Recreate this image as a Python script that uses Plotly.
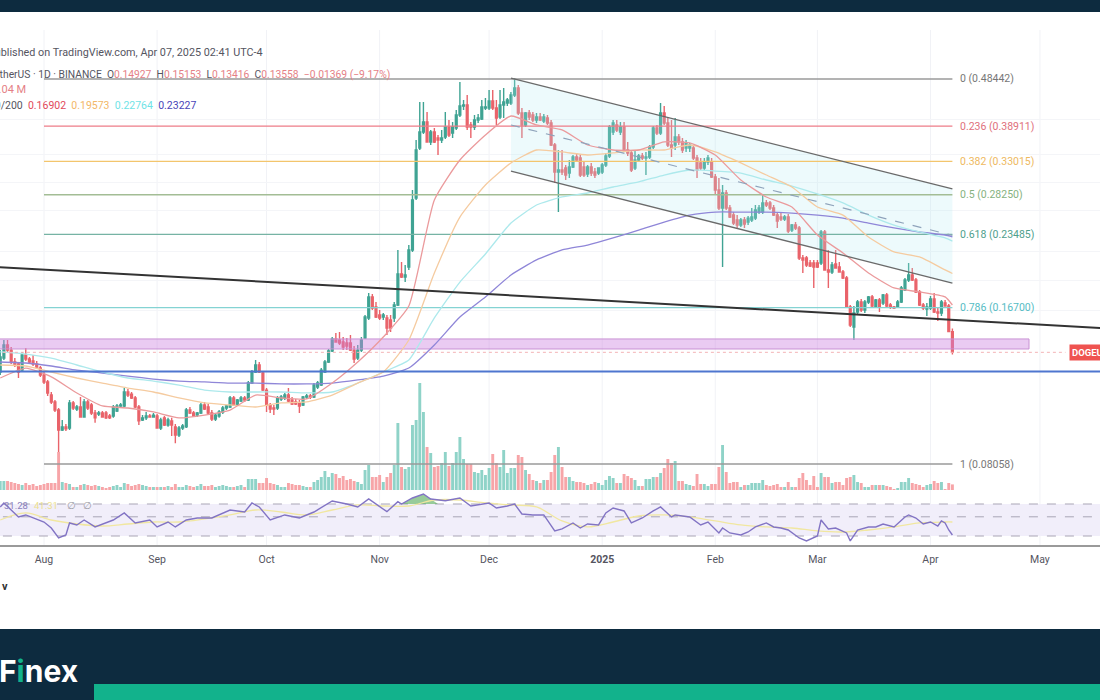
import math
import pandas as pd
import plotly.graph_objects as go

# daily DOGE candles, Jul 20 2024 - Apr 7 2025
opens = [
    .1237, .1320, .1403, .1370, .1296, .1284, .1248, .1339, .1314, .1302, .1284, .1260,
    .1220, .1181, .1111, .1076, .1036, .0944, .0958, .0953, .1071, .1041, .1051, .1003, .1076, .1061, .1022, .1017, .1022, .1022, .1008, .1008, .1031, .1056, .1056, .1127, .1116, .1096, .1051, .0989, .0999, .1008, .1003,
    .1008, .0953, .0999, .0966, .0985, .0958, .0922, .0953, .0958, .1036, .1022, .1012, .1022, .1061, .1051, .1022, .0994, .1008, .1027, .1046, .1051, .1096, .1061, .1081, .1096, .1086, .1175, .1237, .1278, .1231,
    .1137, .1061, .1046, .1046, .1091, .1096, .1111, .1086, .1076, .1071, .1061, .1101, .1106, .1101, .1153, .1164, .1237, .1296, .1364, .1443, .1436, .1423, .1416, .1416, .1370, .1320, .1370, .1449, .1591, .1755, .1674,
    .1613, .1598, .1591, .1576, .1591, .1690, .1953, .1926, .2018, .2184, .2783, .3513, .3785, .3965, .3613, .3785, .3681, .3646, .3698, .3874, .3767, .3856, .4096, .4272, .4292, .3910, .3874, .4002, .4020, .4232,
    .4232, .4373, .4232, .4058, .4292, .4333, .4333, .4496, .4646, .4135, .3910, .4135, .4096, .4002, .4058, .3983, .4039, .3947, .3562, .3141, .3170, .3200, .3126, .3215, .3369, .3353, .3215, .3111, .3215, .3141, .3126,
    .3141, .3245, .3384, .3785, .3910, .3785, .3874, .3480, .3432, .3200, .3321, .3384, .3353, .3369, .3529, .3856, .3767, .4135, .3947, .3562, .3562, .3698, .3613, .3513, .3513, .3513, .3353, .3276, .3200, .3291, .3291,
    .3068, .2888, .2656, .2848, .2656, .2570, .2511, .2453, .2511, .2488, .2511, .2534, .2606, .2606, .2719, .2719, .2656, .2570, .2546, .2522, .2546, .2397, .2453, .2420, .2104, .2104, .2056, .2056,
    .2056, .2056, .2375, .1990, .1971, .2047, .2018, .1971, .1917, .1674, .1526, .1636, .1714, .1651, .1714, .1755, .1674, .1730, .1706, .1771, .1690, .1674, .1674, .1714, .1813, .1899, .1944, .1899, .1796, .1690, .1659,
    .1667, .1738, .1636, .1628, .1706, .1682, .14927,
]
highs = [
    .1370, .1436, .1436, .1390, .1320, .1296, .1358, .1383, .1327, .1339, .1302, .1272,
    .1237, .1192, .1127, .1086, .1046, .0989, .0971, .1086, .1081, .1061, .1101, .1091, .1086, .1071, .1036, .1031, .1031, .1031, .1017, .1061, .1066, .1071, .1148, .1143, .1127, .1106, .1061, .1012, .1027, .1017, .1022,
    .1017, .0999, .1008, .0999, .0999, .0971, .0962, .0971, .1046, .1051, .1031, .1027, .1071, .1076, .1066, .1036, .1022, .1036, .1056, .1061, .1106, .1106, .1091, .1106, .1106, .1186, .1248, .1308, .1296, .1242,
    .1148, .1071, .1061, .1106, .1111, .1122, .1148, .1101, .1091, .1086, .1106, .1116, .1116, .1175, .1186, .1260, .1308, .1377, .1456, .1483, .1490, .1456, .1449, .1470, .1396, .1403, .1456, .1613, .1787, .1779, .1714,
    .1651, .1628, .1613, .1613, .1714, .2184, .2066, .2037, .2235, .2888, .3646, .4353, .4353, .4154, .3820, .3856, .3732, .3820, .4154, .4002, .3965, .4193, .4778, .4393, .4496, .3965, .4096, .4115, .4393, .4434,
    .4602, .4602, .4393, .4602, .4646, .4434, .4559, .4866, .4711, .4232, .4154, .4193, .4154, .4135, .4135, .4115, .4096, .4002, .3596, .3480, .3480, .3245, .3321, .3400, .3432, .3400, .3291, .3245, .3276, .3200, .3200,
    .3276, .3432, .3910, .4002, .4002, .3965, .3965, .3613, .3480, .3480, .3416, .3432, .3448, .3562, .3892, .3910, .4333, .4272, .4039, .4002, .4039, .3749, .3681, .3646, .3596, .3562, .3400, .3353, .3353, .3400, .3353,
    .3111, .3054, .2956, .2888, .2693, .2606, .2570, .2534, .2546, .2558, .2656, .2693, .2693, .2821, .2757, .2744, .2693, .2606, .2594, .2570, .2582, .2465, .2488, .2442, .2134, .2124, .2085, .2085,
    .2085, .2397, .2397, .2184, .2066, .2184, .2066, .1990, .1935, .1690, .1682, .1730, .1738, .1730, .1763, .1771, .1738, .1747, .1779, .1787, .1706, .1682, .1730, .1847, .1917, .2056, .2008, .1917, .1813, .1706, .1706,
    .1763, .1787, .1667, .1730, .1730, .1698, .15153,
]
lows = [
    .1220, .1308, .1351, .1284, .1266, .1203, .1237, .1302, .1284, .1272, .1254, .1209,
    .1170, .1106, .1066, .1027, .0852, .0940, .0940, .0944, .1036, .1031, .0999, .0999, .1036, .1012, .0976, .1008, .0999, .0994, .0994, .0999, .1027, .1046, .1051, .1101, .1091, .1046, .0966, .0985, .0989, .0999, .0999,
    .0953, .0944, .0962, .0958, .0918, .0888, .0914, .0944, .0953, .1017, .1003, .1003, .1017, .1036, .1012, .0985, .0985, .0999, .1017, .1036, .1046, .1056, .1056, .1076, .1076, .1081, .1170, .1231, .1231, .1132,
    .1027, .1022, .1012, .1036, .1081, .1086, .1076, .1061, .1061, .1022, .1056, .1091, .1091, .1096, .1143, .1159, .1231, .1290, .1358, .1423, .1403, .1370, .1370, .1364, .1290, .1308, .1358, .1443, .1576, .1651, .1591,
    .1576, .1576, .1470, .1490, .1561, .1682, .1917, .1881, .1990, .2164, .2757, .3480, .3749, .3613, .3562, .3596, .3400, .3596, .3663, .3698, .3681, .3820, .4058, .4193, .3820, .3681, .3820, .3947, .4002, .4193,
    .4193, .4193, .3910, .4020, .4039, .4272, .4292, .4454, .4096, .3681, .3874, .4002, .3965, .3947, .3983, .3947, .3910, .3546, .2984, .2606, .3097, .3026, .3054, .3200, .3291, .3068, .3068, .3068, .3082, .3054, .3097,
    .3111, .3215, .3353, .3732, .3785, .3732, .3448, .3384, .3141, .3170, .3291, .3321, .3097, .3337, .3496, .3732, .3732, .3910, .3529, .3369, .3480, .3562, .3432, .3448, .3448, .3321, .3054, .3170, .3170, .3245, .3054,
    .2821, .2631, .2018, .2631, .2534, .2453, .2420, .2430, .2420, .2453, .2488, .2511, .2582, .2582, .2668, .2631, .2558, .2420, .2499, .2499, .2364, .2375, .2397, .2085, .1962, .2018, .2018, .1830,
    .2008, .2037, .1990, .1830, .1953, .2008, .1971, .1908, .1667, .1526, .1436, .1620, .1636, .1628, .1698, .1667, .1667, .1636, .1690, .1667, .1659, .1659, .1667, .1706, .1804, .1881, .1890, .1787, .1682, .1651, .1605,
    .1651, .1628, .1569, .1605, .1682, .1490, .13416,
]
closes = [
    .1327, .1403, .1370, .1296, .1278, .1237, .1339, .1314, .1296, .1284, .1266, .1220,
    .1181, .1122, .1076, .1036, .0944, .0958, .0949, .1071, .1046, .1051, .1003, .1076, .1046, .1022, .0999, .1022, .1003, .0999, .0999, .1051, .1056, .1061, .1127, .1111, .1096, .1051, .0985, .0999, .1008, .1003, .1012,
    .0953, .0989, .0966, .0989, .0966, .0922, .0953, .0962, .1036, .1022, .1008, .1022, .1061, .1041, .1022, .0994, .1012, .1027, .1046, .1056, .1096, .1061, .1086, .1096, .1086, .1175, .1237, .1278, .1237, .1137,
    .1061, .1041, .1041, .1096, .1101, .1111, .1081, .1066, .1066, .1056, .1101, .1106, .1101, .1164, .1175, .1248, .1296, .1364, .1443, .1423, .1416, .1390, .1396, .1370, .1314, .1370, .1436, .1598, .1755, .1667, .1598,
    .1591, .1613, .1518, .1518, .1690, .1953, .1926, .1944, .2184, .2757, .3480, .3785, .3965, .3613, .3785, .3613, .3646, .3681, .3874, .3732, .3874, .4096, .4272, .4292, .3874, .3874, .4002, .4039, .4252, .4252,
    .4373, .4232, .4039, .4292, .4353, .4393, .4496, .4646, .4135, .3910, .4135, .4058, .4002, .4058, .4002, .4058, .3947, .3562, .3141, .3170, .3141, .3097, .3215, .3369, .3321, .3097, .3097, .3215, .3126, .3097, .3200,
    .3245, .3384, .3874, .3947, .3820, .3874, .3480, .3432, .3170, .3321, .3384, .3353, .3369, .3529, .3856, .3767, .4135, .3947, .3562, .3513, .3698, .3613, .3480, .3596, .3562, .3353, .3170, .3200, .3291, .3353, .3068,
    .2888, .2656, .2848, .2656, .2546, .2476, .2453, .2511, .2465, .2534, .2546, .2631, .2656, .2719, .2693, .2656, .2570, .2499, .2522, .2546, .2386, .2453, .2420, .2104, .2085, .2037, .2027, .2018,
    .2018, .2375, .1990, .1971, .2037, .2008, .1971, .1917, .1674, .1540, .1628, .1714, .1651, .1714, .1755, .1682, .1730, .1674, .1771, .1682, .1674, .1667, .1714, .1830, .1899, .1944, .1899, .1796, .1690, .1667, .1674,
    .1738, .1636, .1628, .1714, .1682, .14927, .13558,
]
# volume in millions
volumes = [
    180, 180, 180, 160, 140, 120, 100, 140, 100, 120, 80, 100,
    120, 140, 140, 140, 760, 160, 140, 120, 60, 60, 100, 120, 100, 80, 100, 80, 60, 40, 60, 80, 100, 60, 140, 120, 80, 100, 120, 100, 80, 60, 60,
    60, 60, 60, 80, 60, 120, 60, 60, 100, 80, 60, 80, 120, 80, 80, 100, 60, 80, 100, 80, 60, 60, 80, 100, 60, 220, 220, 220, 140, 140,
    240, 140, 120, 100, 60, 60, 140, 120, 100, 100, 80, 60, 60, 160, 200, 260, 380, 260, 340, 320, 240, 280, 200, 220, 180, 160, 120, 400, 500, 260, 260,
    300, 160, 260, 340, 500, 1340, 460, 420, 460, 1300, 1400, 2140, 1560, 860, 740, 460, 480, 540, 760, 480, 540, 760, 1060, 620, 520, 520, 360, 340, 400, 300,
    440, 720, 540, 460, 800, 340, 440, 440, 700, 660, 400, 320, 200, 180, 140, 200, 200, 360, 700, 860, 460, 260, 260, 180, 160, 160, 140, 100, 120, 160, 140,
    100, 200, 280, 240, 140, 140, 320, 280, 240, 200, 80, 80, 220, 220, 260, 260, 340, 440, 620, 540, 580, 180, 180, 120, 100, 80, 320, 120, 120, 80, 120,
    120, 460, 900, 360, 140, 160, 160, 60, 100, 100, 140, 140, 140, 200, 100, 80, 100, 120, 60, 60, 160, 60, 60, 240, 340, 200, 100, 280,
    60, 340, 260, 260, 140, 160, 160, 100, 240, 260, 300, 160, 140, 60, 60, 100, 100, 100, 100, 80, 60, 20, 40, 160, 160, 240, 140, 120, 100, 60, 100,
    120, 180, 140, 160, 20, 140, 112.04,
]

ma_dates = ["2024-07-20", "2024-07-27", "2024-08-03", "2024-08-10", "2024-08-17", "2024-08-24", "2024-08-31", "2024-09-07", "2024-09-14", "2024-09-21",
            "2024-09-28", "2024-10-05", "2024-10-12", "2024-10-19", "2024-10-26", "2024-11-02", "2024-11-09", "2024-11-16", "2024-11-23", "2024-11-30",
            "2024-12-07", "2024-12-14", "2024-12-21", "2024-12-28", "2025-01-04", "2025-01-11", "2025-01-18", "2025-01-25", "2025-02-01", "2025-02-08",
            "2025-02-15", "2025-02-22", "2025-03-01", "2025-03-08", "2025-03-15", "2025-03-22", "2025-03-29", "2025-04-05", "2025-04-07"]
ma20 = [.1203, .1260, .1209, .1122, .1056, .1046, .1027, .0999, .1012, .1036, .1111, .1096, .1091, .1175, .1296, .1456, .1682, .2757, .3321, .3732,
        .4077, .3910, .3820, .3562, .3480, .3480, .3613, .3596, .3400, .3026, .2796, .2668, .2342, .2154, .1962, .1830, .1796, .1755, .16902]
ma50 = [.1278, .1272, .1237, .1203, .1175, .1148, .1127, .1096, .1071, .1061, .1051, .1071, .1076, .1111, .1175, .1237, .1436, .1962, .2546, .2956,
        .3276, .3480, .3448, .3400, .3432, .3480, .3480, .3562, .3448, .3276, .3097, .2929, .2668, .2570, .2320, .2164, .2114, .1990, .19573]
ma100 = [.1358, .1345, .1320, .1278, .1237, .1203, .1186, .1164, .1137, .1127, .1127, .1127, .1122, .1127, .1175, .1237, .1308, .1591, .1881, .2144,
         .2476, .2693, .2796, .2848, .2929, .2998, .3097, .3170, .3155, .3126, .3026, .2942, .2835, .2719, .2570, .2453, .2375, .2310, .22764]
ma200 = [.1296, .1290, .1272, .1248, .1231, .1214, .1197, .1186, .1181, .1175, .1175, .1170, .1170, .1175, .1192, .1214, .1260, .1403, .1598, .1755,
         .1944, .2085, .2184, .2235, .2310, .2397, .2488, .2570, .2606, .2606, .2606, .2594, .2570, .2534, .2476, .2420, .2375, .2342, .23227]
rsi_ma = [50, 58.8, 50, 45, 42.5, 45, 47.5, 47.5, 51.3, 56.3, 62.5, 60, 56.3, 62.5, 68.8, 67.5, 67.5, 75, 75, 71.3,
          68.8, 66.3, 48.8, 41.3, 47.5, 55, 56.3, 53.8, 48.8, 43.8, 41.3, 40, 36.3, 35, 37.5, 41.3, 46.3, 47.5, 47.5]

rsi_dates = ["2024-07-20", "2024-07-21", "2024-07-23", "2024-07-25", "2024-07-27", "2024-07-29", "2024-08-01", "2024-08-03", "2024-08-04", "2024-08-05",
             "2024-08-07", "2024-08-08", "2024-08-10", "2024-08-12", "2024-08-15", "2024-08-20", "2024-08-23", "2024-08-26", "2024-08-30", "2024-09-01",
             "2024-09-04", "2024-09-06", "2024-09-09", "2024-09-12", "2024-09-16", "2024-09-21", "2024-09-25", "2024-09-27", "2024-09-29", "2024-10-02",
             "2024-10-06", "2024-10-10", "2024-10-14", "2024-10-19", "2024-10-23", "2024-10-26", "2024-10-29", "2024-10-31", "2024-11-03", "2024-11-06",
             "2024-11-07", "2024-11-10", "2024-11-13", "2024-11-15", "2024-11-19", "2024-11-23", "2024-11-26", "2024-12-01", "2024-12-03", "2024-12-06",
             "2024-12-08", "2024-12-10", "2024-12-13", "2024-12-16", "2024-12-19", "2024-12-21", "2024-12-24", "2024-12-26", "2024-12-28", "2024-12-31",
             "2025-01-02", "2025-01-04", "2025-01-07", "2025-01-09", "2025-01-12", "2025-01-15", "2025-01-17", "2025-01-20", "2025-01-21", "2025-01-25",
             "2025-01-28", "2025-01-30", "2025-02-02", "2025-02-03", "2025-02-05", "2025-02-08", "2025-02-10", "2025-02-12", "2025-02-15", "2025-02-17",
             "2025-02-19", "2025-02-21", "2025-02-24", "2025-02-26", "2025-03-01", "2025-03-02", "2025-03-04", "2025-03-06", "2025-03-09", "2025-03-10",
             "2025-03-12", "2025-03-15", "2025-03-17", "2025-03-19", "2025-03-22", "2025-03-25", "2025-03-26", "2025-03-28", "2025-03-30", "2025-04-01",
             "2025-04-03", "2025-04-04", "2025-04-05", "2025-04-06", "2025-04-07"]
rsi = [66.3, 71.3, 62.5, 53.8, 56.3, 52.5, 47.5, 40, 33.8, 27.5,
       31.3, 46.3, 43.8, 50, 41.3, 50, 58.8, 46.3, 50, 41.3,
       47.5, 41.3, 50, 52.5, 52.5, 62.5, 60, 71.3, 66.3, 50,
       56.3, 52.5, 60, 73.8, 70, 66.3, 76.3, 70, 60.4, 72.9,
       70, 77.5, 82.5, 76.3, 74.1, 77.5, 67.5, 71.3, 65, 67.5,
       70, 57.5, 56.3, 56.3, 36.3, 38.8, 46.3, 40, 45, 43.8,
       58.8, 65, 61.3, 46.3, 52.5, 61.3, 66.3, 53.8, 56.3, 53.8,
       43.8, 47.5, 33.8, 40, 33.8, 31.3, 35, 41.3, 46.3, 41.3,
       40, 37.5, 27.5, 23.8, 30, 50, 38.8, 40, 33.8, 23.8,
       37.5, 41.3, 41.3, 45, 41.3, 53.8, 56.3, 52.5, 45, 47.5,
       42.5, 48.8, 46.3, 37.5, 31.28]
rsi_levels = [70, 54, 30]
# overbought bump that gets the green fill
ob_dates = ["2024-11-07", "2024-11-10", "2024-11-13", "2024-11-15", "2024-11-17"]
ob_vals = [70, 77.5, 82.5, 76.3, 70]

fib_ratio = ["0", "0.236", "0.382", "0.5", "0.618", "0.786", "1"]
fib_price = [0.48442, 0.38911, 0.33015, 0.28250, 0.23485, 0.16700, 0.08058]
fib_color = ["#9a9a9a", "#ee7c88", "#f3c56d", "#a3bd95", "#76b3a4", "#84d3d3", "#9a9a9a"]
fib_text = ["#777777", "#e0707c", "#eeb95f", "#86b27f", "#4fa08d", "#55bcc4", "#777777"]
fib_dates = ["2024-08-01", "2025-04-07"]

chan_dates = ["2024-12-07", "2025-04-07"]
chan_upper = [0.4866, 0.2902]
chan_mid = [0.3910, 0.2338]
chan_lower = [0.3155, 0.1872]

trend_dates = ["2024-07-19", "2025-05-18"]
trend_vals = [0.2018, 0.1518]
support_price = 0.1240
zone_dates = ["2024-07-01", "2025-04-28"]
zone_top = 0.1443
zone_bottom = 0.1377
last_price = 0.13558

tick_dates = ["2024-08-01", "2024-09-01", "2024-10-01", "2024-11-01", "2024-12-01", "2025-01-01", "2025-02-01", "2025-03-01", "2025-04-01", "2025-05-01"]
tick_text = ["Aug", "Sep", "Oct", "Nov", "Dec", "<b>2025</b>", "Feb", "Mar", "Apr", "May"]
grid_prices = [0.4002, 0.3400, 0.2985, 0.2620, 0.2167, 0.1899, 0.1650]

assert len(opens) == len(highs) == len(lows) == len(closes) == len(volumes)
dates = pd.date_range(end="2025-04-07", periods=len(closes), freq="D")
vol_colors = ["#8fd3c8" if c >= o else "#f7a5a8" for o, c in zip(opens, closes)]

W, H = 1100, 700


def py(px):
    return 1 - px / H


# log scale pinned by the 0 and 1 fib levels (y=79 and y=464 on the canvas)
k = (math.log10(0.48442) - math.log10(0.08058)) / (464 - 79)
price_range = [math.log10(0.48442) - (490 - 79) * k, math.log10(0.48442) + (79 - 30) * k]

fig = go.Figure()

fig.add_bar(x=[str(d.date()) for d in dates], y=volumes, marker_color=vol_colors, marker_line_width=0, yaxis="y", xaxis="x")

fig.add_scatter(x=[zone_dates[0], zone_dates[1], zone_dates[1], zone_dates[0]],
                y=[zone_top, zone_top, zone_bottom, zone_bottom], fill="toself", mode="lines",
                fillcolor="rgba(205,130,225,0.42)", line=dict(color="#c992d4", width=1), yaxis="y2")
fig.add_scatter(x=[chan_dates[0], chan_dates[1], chan_dates[1], chan_dates[0]],
                y=[chan_upper[0], chan_upper[1], chan_lower[1], chan_lower[0]], fill="toself", mode="none",
                fillcolor="rgba(178,235,242,0.24)", yaxis="y2")
for price, color in zip(fib_price, fib_color):
    fig.add_scatter(x=fib_dates, y=[price, price], mode="lines", line=dict(color=color, width=1.3), yaxis="y2")

fig.add_scatter(x=ma_dates, y=ma200, mode="lines", line=dict(color="#8f86d8", width=1.3, shape="spline", smoothing=0.5), yaxis="y2")
fig.add_scatter(x=ma_dates, y=ma100, mode="lines", line=dict(color="#ade9ec", width=1.3, shape="spline", smoothing=0.5), yaxis="y2")
fig.add_scatter(x=ma_dates, y=ma50, mode="lines", line=dict(color="#f5cba0", width=1.3, shape="spline", smoothing=0.5), yaxis="y2")
fig.add_scatter(x=ma_dates, y=ma20, mode="lines", line=dict(color="#eb9a9c", width=1.3, shape="spline", smoothing=0.5), yaxis="y2")

fig.add_candlestick(x=dates, open=opens, high=highs, low=lows, close=closes, yaxis="y2",
                    increasing=dict(line=dict(color="#3fa393", width=1.4), fillcolor="#3fa393"),
                    decreasing=dict(line=dict(color="#e9636a", width=1.4), fillcolor="#e9636a"))

fig.add_scatter(x=chan_dates, y=chan_upper, mode="lines", line=dict(color="#6a6a6a", width=1.3), yaxis="y2")
fig.add_scatter(x=chan_dates, y=chan_lower, mode="lines", line=dict(color="#6a6a6a", width=1.3), yaxis="y2")
fig.add_scatter(x=chan_dates, y=chan_mid, mode="lines", line=dict(color="#8fa3bb", width=1.2, dash="dash"), yaxis="y2")
fig.add_scatter(x=trend_dates, y=trend_vals, mode="lines", line=dict(color="#333333", width=2), yaxis="y2")
fig.add_scatter(x=[zone_dates[0], "2025-05-18"], y=[support_price, support_price], mode="lines",
                line=dict(color="#4f76cf", width=2), yaxis="y2")
fig.add_scatter(x=[zone_dates[0], "2025-05-08"], y=[last_price, last_price], mode="lines",
                line=dict(color="#f3b4b6", width=1, dash="dot"), yaxis="y2")

# rsi pane
fig.add_scatter(x=[zone_dates[0], "2025-05-18", "2025-05-18", zone_dates[0]],
                y=[rsi_levels[0], rsi_levels[0], rsi_levels[2], rsi_levels[2]], fill="toself", mode="none",
                fillcolor="#f1eefa", yaxis="y3")
for lvl in rsi_levels:
    fig.add_scatter(x=[zone_dates[0], "2025-05-18"], y=[lvl, lvl], mode="lines",
                    line=dict(color="#a9a5b5", width=1, dash="dash"), yaxis="y3")
fig.add_scatter(x=ob_dates, y=[rsi_levels[0]] * len(ob_dates), mode="lines", line=dict(width=0), yaxis="y3")
fig.add_scatter(x=ob_dates, y=ob_vals, mode="lines", line=dict(width=0), fill="tonexty",
                fillcolor="rgba(67,160,71,0.55)", yaxis="y3")
fig.add_scatter(x=ma_dates, y=rsi_ma, mode="lines", line=dict(color="#f1e7a0", width=1.3, shape="spline"), yaxis="y3")
fig.add_scatter(x=rsi_dates, y=rsi, mode="lines", line=dict(color="#8274c4", width=1.4), yaxis="y3")

shapes = [dict(type="line", xref="x", yref="paper", x0=d, x1=d, y0=py(545), y1=py(30), layer="below",
               line=dict(color="#f1f2f6", width=1)) for d in tick_dates]
shapes += [
    dict(type="rect", xref="paper", yref="paper", x0=0, x1=1, y0=py(12), y1=1, fillcolor="#0d2b3f", line_width=0),
    dict(type="rect", xref="paper", yref="paper", x0=0, x1=1, y0=0, y1=py(629), fillcolor="#0d2b3f", line_width=0),
    dict(type="rect", xref="paper", yref="paper", x0=94 / W, x1=1, y0=0, y1=py(684), fillcolor="#12b28c", line_width=0),
]

FONT = "Roboto, sans-serif"
TXT = "#55555f"
RED = "#e57f86"


def note(text, x, y, anchor="right", size=10.5, color=TXT):
    return dict(text=text, x=x / W, y=py(y), xref="paper", yref="paper", xanchor=anchor, yanchor="middle",
                showarrow=False, font=dict(family=FONT, size=size, color=color))


annos = [
    note("Published on TradingView.com, Apr 07, 2025 02:41 UTC-4", 265, 52, size=10.8),
    note(f"Dogecoin / TetherUS · 1D · BINANCE  O<span style='color:{RED}'>0.14927</span>  H<span style='color:{RED}'>0.15153</span>"
         f"  L<span style='color:{RED}'>0.13416</span>  C<span style='color:{RED}'>0.13558</span>"
         f"  <span style='color:{RED}'>−0.01369 (−9.17%)</span>", 392, 75, size=10.3),
    note(f"<span style='color:{RED}'>112.04 M</span>", 28, 90, size=11),
    note("MA 20/50/100/200  <span style='color:#e2485a'>0.16902</span>  <span style='color:#f3b768'>0.19573</span>"
         "  <span style='color:#6fe3e6'>0.22764</span>  <span style='color:#4a44b8'>0.23227</span>", 198, 105, size=10.5),
    note("31.28", 30, 505, size=9.5, color="#8a7fbd"),
    note("41.31", 60, 505, size=9.5, color="#ecdf8e"),
    note("∅", 78, 505, size=10, color="#9a9aa3"),
    note("∅", 94, 505, size=10, color="#9a9aa3"),
    note("<b>v</b>", 0, 586, anchor="left", size=11, color="#333333"),
    note("<b>F<span style='color:#12b28c'>i</span>nex</b>", 80, 671, size=30, color="#ffffff"),
]
annos[-1]["font"]["family"] = "Inter, sans-serif"
for ratio, price, color in zip(fib_ratio, fib_price, fib_text):
    annos.append(dict(text=f"{ratio} ({price:.5f})", x="2025-04-08 12:00", y=math.log10(price), xref="x", yref="y2",
                      xanchor="left", yanchor="middle", showarrow=False, font=dict(family=FONT, size=10.5, color=color)))
annos.append(dict(text="<b>DOGEUSDT</b>", x="2025-05-09", y=math.log10(last_price), xref="x", yref="y2",
                  xanchor="left", yanchor="middle", showarrow=False, bgcolor="#ef5350", borderpad=2,
                  font=dict(family=FONT, size=9.5, color="#ffffff")))

fig.update_layout(
    width=W, height=H, margin=dict(l=0, r=0, t=0, b=0), showlegend=False, hovermode=False,
    paper_bgcolor="#ffffff", plot_bgcolor="rgba(0,0,0,0)", bargap=0.2,
    xaxis=dict(type="date", range=["2024-07-19 22:30", "2025-05-17 11:00"], anchor="y3", rangeslider=dict(visible=False),
               tickmode="array", tickvals=tick_dates, ticktext=tick_text, showgrid=False, ticks="", ticklabelstandoff=4,
               showline=True, linecolor="#9a9a9a", linewidth=1.5,
               tickfont=dict(family=FONT, size=10.5, color=TXT)),
    yaxis=dict(domain=[py(490), py(380)], range=[0, 2200], visible=False),
    yaxis2=dict(domain=[py(490), py(30)], type="log", range=price_range, anchor="x", tickmode="array", tickvals=grid_prices,
                showticklabels=False, showgrid=True, gridcolor="#f4f5f8", zeroline=False, ticks=""),
    yaxis3=dict(domain=[py(545), py(490)], range=[18.75, 87.5], anchor="x", visible=False),
    shapes=shapes, annotations=annos,
)

fig.write_html("out.html", config={"displayModeBar": False},
               post_script="document.body.style.margin='0';document.body.style.overflow='hidden';")
